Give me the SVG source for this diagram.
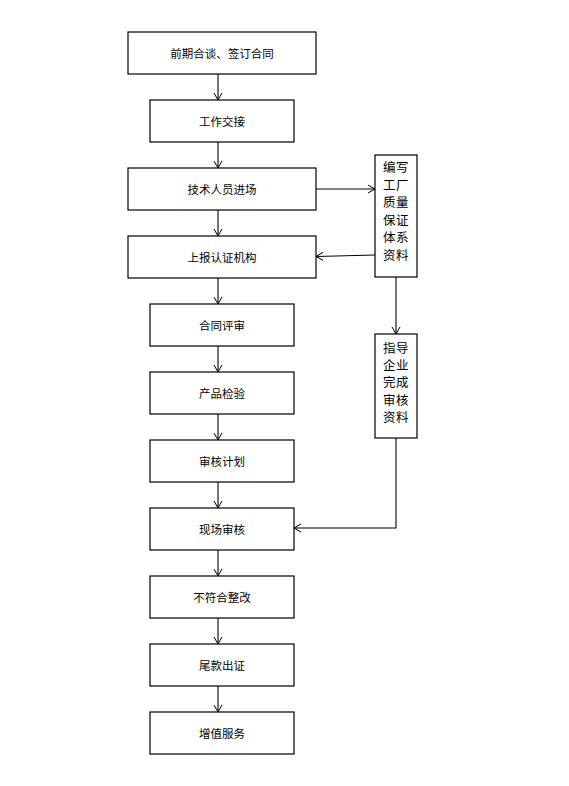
<svg xmlns="http://www.w3.org/2000/svg" width="569" height="786" viewBox="0 0 569 786">
<style>
.box{fill:#fff;stroke:#000;stroke-width:1.2}
.t{font-family:"Noto Sans CJK SC","Liberation Sans",sans-serif;font-size:11.5px;fill:#000;text-anchor:middle}
.v{font-family:"Noto Sans CJK SC","Liberation Sans",sans-serif;font-size:12.5px;fill:#000;letter-spacing:0.5px}
.c{fill:none;stroke:#000;stroke-width:1.1}
</style>
<defs>
<marker id="a" markerWidth="10" markerHeight="10" refX="8" refY="5" orient="auto" markerUnits="userSpaceOnUse">
<path d="M1,1 L8,5 L1,9" fill="none" stroke="#000" stroke-width="1"/>
</marker>
</defs>
<rect width="569" height="786" fill="#fff"/>
<g id="connectors">
<line class="c" x1="218" y1="74" x2="218" y2="100" marker-end="url(#a)"/>
<line class="c" x1="218" y1="142" x2="218" y2="168" marker-end="url(#a)"/>
<line class="c" x1="218" y1="210" x2="218" y2="236" marker-end="url(#a)"/>
<line class="c" x1="218" y1="278" x2="218" y2="304" marker-end="url(#a)"/>
<line class="c" x1="218" y1="346" x2="218" y2="372" marker-end="url(#a)"/>
<line class="c" x1="218" y1="414" x2="218" y2="440" marker-end="url(#a)"/>
<line class="c" x1="218" y1="482" x2="218" y2="508" marker-end="url(#a)"/>
<line class="c" x1="218" y1="550" x2="218" y2="576" marker-end="url(#a)"/>
<line class="c" x1="218" y1="618" x2="218" y2="644" marker-end="url(#a)"/>
<line class="c" x1="218" y1="686" x2="218" y2="712" marker-end="url(#a)"/>
<line class="c" x1="316" y1="189" x2="375" y2="189" marker-end="url(#a)"/>
<line class="c" x1="375" y1="255" x2="316" y2="256.5" marker-end="url(#a)"/>
<line class="c" x1="396" y1="277" x2="396" y2="334" marker-end="url(#a)"/>
<polyline class="c" points="396,438 396,528 294,528" marker-end="url(#a)"/>
</g>
<g id="n1"><rect class="box" x="128" y="32" width="188" height="42"/><text class="t" x="222" y="57.5">前期合谈、签订合同</text></g>
<g id="n2"><rect class="box" x="150" y="100" width="144" height="42"/><text class="t" x="222" y="125.5">工作交接</text></g>
<g id="n3"><rect class="box" x="128" y="168" width="188" height="42"/><text class="t" x="222" y="193.5">技术人员进场</text></g>
<g id="n4"><rect class="box" x="128" y="236" width="188" height="42"/><text class="t" x="222" y="261.5">上报认证机构</text></g>
<g id="n5"><rect class="box" x="150" y="304" width="144" height="42"/><text class="t" x="222" y="329.5">合同评审</text></g>
<g id="n6"><rect class="box" x="150" y="372" width="144" height="42"/><text class="t" x="222" y="397.5">产品检验</text></g>
<g id="n7"><rect class="box" x="150" y="440" width="144" height="42"/><text class="t" x="222" y="465.5">审核计划</text></g>
<g id="n8"><rect class="box" x="150" y="508" width="144" height="42"/><text class="t" x="222" y="533.5">现场审核</text></g>
<g id="n9"><rect class="box" x="150" y="576" width="144" height="42"/><text class="t" x="222" y="601.5">不符合整改</text></g>
<g id="n10"><rect class="box" x="150" y="644" width="144" height="42"/><text class="t" x="222" y="669.5">尾款出证</text></g>
<g id="n11"><rect class="box" x="150" y="712" width="144" height="42"/><text class="t" x="222" y="737.5">增值服务</text></g>
<g id="r1"><rect class="box" x="375" y="155" width="42" height="122"/>
<text class="v" x="383" y="172">编写</text>
<text class="v" x="383" y="189.6">工厂</text>
<text class="v" x="383" y="207.2">质量</text>
<text class="v" x="383" y="224.8">保证</text>
<text class="v" x="383" y="242.4">体系</text>
<text class="v" x="383" y="260">资料</text>
</g>
<g id="r2"><rect class="box" x="375" y="334" width="42" height="104"/>
<text class="v" x="383" y="353">指导</text>
<text class="v" x="383" y="370.2">企业</text>
<text class="v" x="383" y="387.4">完成</text>
<text class="v" x="383" y="404.6">审核</text>
<text class="v" x="383" y="421.8">资料</text>
</g>
</svg>
